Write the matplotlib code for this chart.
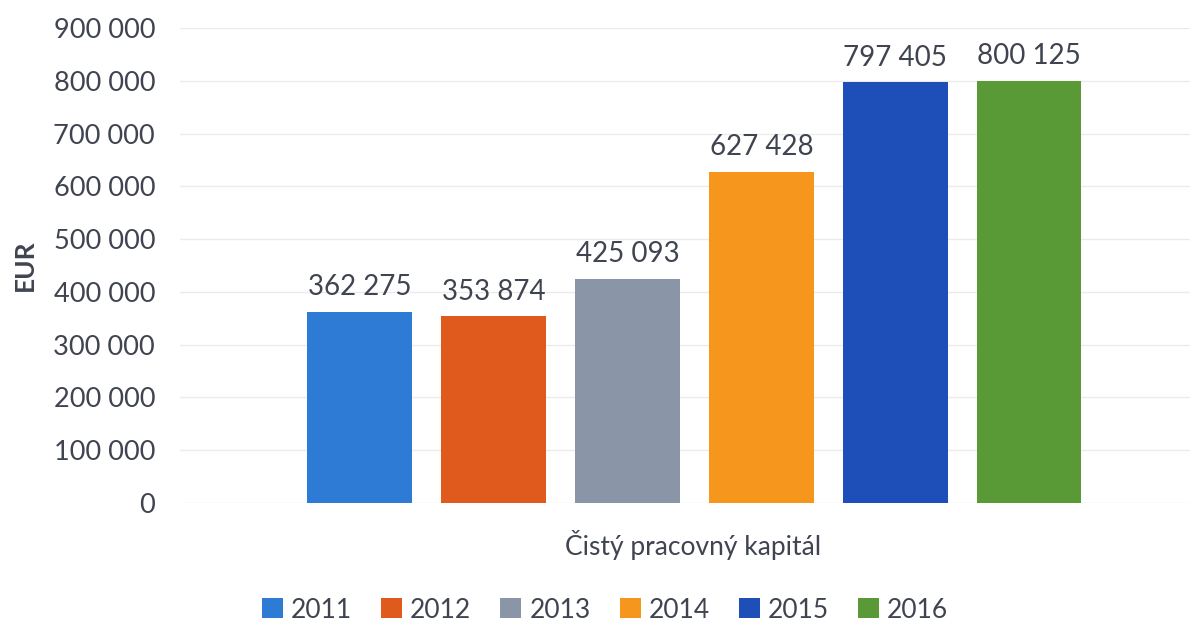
import matplotlib
matplotlib.use("Agg")
import matplotlib.pyplot as plt
from matplotlib.patches import Patch

years = ["2011", "2012", "2013", "2014", "2015", "2016"]
values = [362275, 353874, 425093, 627428, 797405, 800125]
category = "Čistý pracovný kapitál"
yticks = [0, 100000, 200000, 300000, 400000, 500000, 600000, 700000, 800000, 900000]
colors = ["#2E7BD6", "#E05A1E", "#8A96A8", "#F7961C", "#1E4FB8", "#5A9A36"]

plt.rcParams['font.family'] = ['Lato', 'DejaVu Sans']
txt = "#3F4450"

fig = plt.figure(figsize=(11.92, 6.25), dpi=100)
ax = fig.add_axes([180/1192, 1 - 503/625, 1010/1192, 475/625])

def fmt(v):
    return f"{v:,}".replace(",", " ")

x = list(range(len(values)))
bars = ax.bar(x, values, width=0.78, color=colors, zorder=3)
for xi, v in zip(x, values):
    ax.text(xi, v + 22000, fmt(v), ha="center", va="bottom", fontsize=20, color=txt)

ax.set_xlim(-1.34, 6.2)
ax.set_ylim(0, 900000)
ax.set_yticks(yticks)
ax.set_yticklabels([fmt(t) for t in yticks], fontsize=19.5, color=txt)
ax.set_xticks([])
ax.tick_params(axis="y", length=0, pad=18)
ax.grid(axis="y", color="#EBEBEB", linewidth=1, zorder=0)
for s in ax.spines.values():
    s.set_visible(False)

ax.set_ylabel("EUR", fontsize=19, color=txt, labelpad=12, fontweight="bold")
fig.text(693/1192, 1 - 545/625, category, ha="center", va="center", fontsize=19, color=txt)

handles = [Patch(facecolor=c) for c in colors]
fig.legend(handles, years, loc="center", bbox_to_anchor=(605/1192, 1 - 610/625), ncol=6,
           frameon=False, fontsize=19, labelcolor=txt, handlelength=0.8, handleheight=0.8,
           handletextpad=0.3, columnspacing=1.1)

fig.savefig("out.png", dpi=100)
